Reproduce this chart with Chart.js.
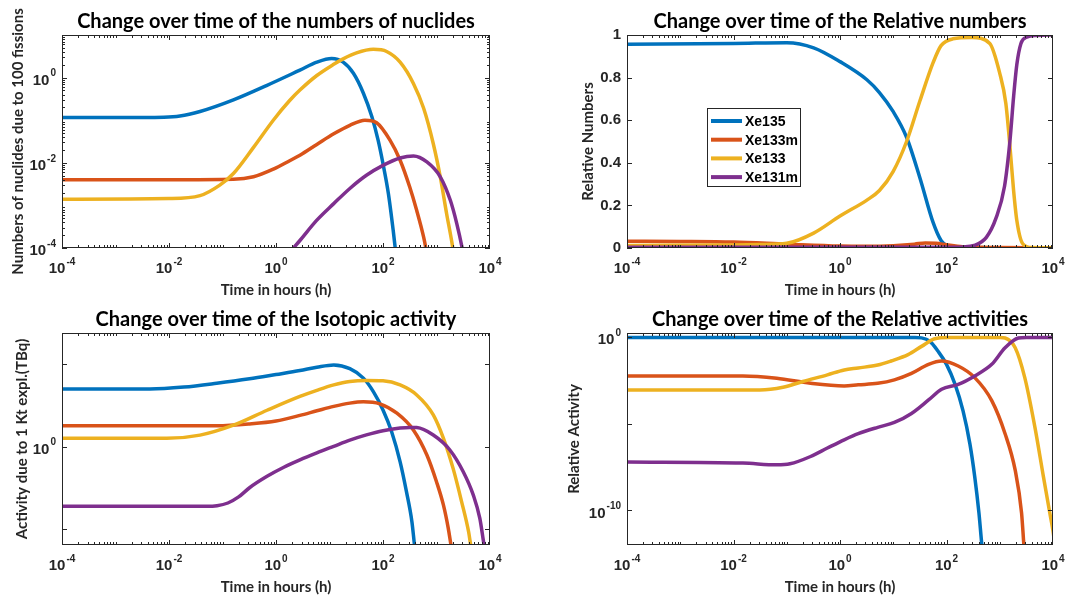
<!DOCTYPE html>
<html>
<head>
<meta charset="utf-8">
<title>Xenon isotopes over time</title>
<script src="https://cdn.jsdelivr.net/npm/chart.js@4.4.1/dist/chart.umd.min.js"></script>
<style>
  body { margin: 0; background: #fff; }
  .panel { position: absolute; width: 536px; height: 298px; }
</style>
</head>
<body>
<div class="panel" style="left:0;top:0"><canvas id="numbers" width="536" height="298"></canvas></div>
<div class="panel" style="left:536px;top:0"><canvas id="relNumbers" width="536" height="298"></canvas></div>
<div class="panel" style="left:0;top:298px"><canvas id="activity" width="536" height="298"></canvas></div>
<div class="panel" style="left:536px;top:298px"><canvas id="relActivity" width="536" height="298"></canvas></div>
<script>
// isotopes and MATLAB default line colours
var isotopes = ["Xe135", "Xe133m", "Xe133", "Xe131m"];
var colours = ["#0072BD", "#D95319", "#EDB120", "#7E2F8E"];

// x axis (time in hours), labels are powers of ten
var timeTicks = [1e-4, 1e-2, 1, 1e2, 1e4];
var timeTickExp = ["-4", "-2", "0", "2", "4"];

// numbers of nuclides due to 100 fissions : [hours, value]
var numXe135 = [[1e-4,0.116],[1e-3,0.116],[0.008,0.118],[0.016,0.125],[0.038,0.16],[0.16,0.30],[0.68,0.66],[2.8,1.5],[5.8,2.3],[11,2.8],[18,2.3],[28,1.26],[43,0.43],[62,0.12],[81,0.034],[100,0.0095],[126,0.0019],[155,2.6e-4],[170,9.5e-5],[200,1.6e-5]];
var numXe133m = [[1e-4,0.004],[0.01,0.004],[0.16,0.0041],[0.38,0.0047],[0.89,0.0071],[1.8,0.0112],[2.8,0.0151],[5.8,0.027],[12,0.048],[24,0.076],[46,0.1],[76,0.087],[135,0.034],[209,0.0115],[316,0.0027],[427,7.6e-4],[575,1.8e-4],[631,1e-4],[800,1.3e-5]];
var numXe133 = [[1e-4,0.0014],[0.01,0.00145],[0.038,0.0017],[0.089,0.003],[0.16,0.0056],[0.38,0.023],[0.89,0.1],[1.8,0.29],[2.8,0.51],[5.8,1.12],[12,2.05],[18,2.75],[32,3.8],[66,4.6],[117,4.1],[209,2.3],[372,0.72],[575,0.19],[871,0.028],[1175,0.0047],[1549,6.3e-4],[1950,1.3e-4],[2500,1.6e-5]];
var numXe131m = [[1e-4,2.3e-7],[0.05,2.3e-7],[0.13,3.6e-7],[0.2,8.5e-7],[0.32,3.0e-6],[0.68,1.5e-5],[1.4,5.4e-5],[2.8,1.5e-4],[5.8,4.5e-4],[12,0.0011],[24,0.0025],[49,0.0051],[100,0.0087],[209,0.013],[372,0.0145],[661,0.0105],[1175,0.0047],[1820,0.0013],[2399,3.7e-4],[3020,1e-4],[3800,2e-5]];

// relative numbers
var relXe135 = [[1e-4,0.957],[0.01,0.96],[0.1,0.964],[0.32,0.94],[1,0.875],[3.2,0.79],[5.5,0.73],[10,0.64],[17.8,0.52],[31.6,0.33],[56,0.12],[79,0.035],[100,0.012],[160,0.002],[1e4,0]];
var relXe133m = [[1e-4,0.032],[1e-3,0.031],[0.01,0.028],[0.1,0.018],[1,0.009],[3.2,0.008],[10,0.011],[25,0.018],[40,0.024],[63,0.022],[100,0.015],[200,0.006],[400,0.003],[1000,0.002],[1e4,0.001]];
var relXe133 = [[1e-4,0.012],[0.01,0.014],[0.032,0.016],[0.1,0.022],[0.32,0.07],[1,0.15],[3.2,0.225],[5.5,0.27],[10,0.36],[17.8,0.5],[31.6,0.69],[56,0.87],[79,0.95],[132,0.982],[300,0.988],[650,0.96],[1000,0.82],[1300,0.68],[1550,0.48],[1820,0.27],[2090,0.13],[2700,0.02],[4000,0.002],[1e4,0.001]];
var relXe131m = [[1e-4,0.003],[100,0.003],[200,0.005],[330,0.012],[560,0.05],[850,0.14],[1230,0.29],[1550,0.5],[1820,0.71],[2090,0.86],[2500,0.96],[3200,0.99],[5000,0.998],[1e4,1.0]];

// activity due to 1 kt explosion (TBq)
var actXe135 = [[1e-4,3200],[0.0044,3200],[0.019,4170],[0.078,7080],[0.32,13200],[1,24000],[2.8,41700],[5.8,66000],[12,91000],[24,54000],[43,14500],[66,2200],[100,170],[145,8.1],[209,0.12],[275,0.0018],[347,2.8e-5],[389,1e-6],[450,3e-8]];
var actXe133m = [[1e-4,18.6],[0.079,18.6],[0.32,24],[1,36],[2.8,79],[5.8,150],[12,280],[24,440],[43,530],[87,400],[182,107],[372,10],[661,0.31],[1000,0.0074],[1349,2.8e-4],[1660,1.1e-5],[1870,1e-6],[2100,1e-7]];
var actXe133 = [[1e-4,3.2],[0.0091,3.2],[0.038,5],[0.16,20],[0.68,162],[2.8,1120],[5.8,2630],[12,5600],[24,9100],[49,10500],[100,10000],[209,5600],[427,1380],[871,85],[1349,3.2],[2042,0.048],[2951,4.5e-4],[3981,6.8e-6],[4365,1.05e-6],[5000,1e-7]];
var actXe131m = [[1e-4,2.4e-4],[0.05,2.4e-4],[0.079,2.6e-4],[0.126,3.8e-4],[0.2,8.9e-4],[0.32,0.0032],[0.68,0.0158],[1.4,0.056],[2.8,0.158],[5.8,0.42],[12,1.05],[24,2.5],[49,5.2],[100,9.3],[209,13.5],[316,14.8],[427,14.5],[871,5.1],[1778,0.63],[3162,0.03],[4898,0.0011],[6457,4.4e-5],[7762,1.05e-6],[9000,1e-7]];

// relative activities
var raXe135 = [[1e-4,0.99],[10,0.99],[25,0.98],[34,0.93],[49,0.59],[69,0.16],[100,0.0275],[145,0.0019],[204,5.8e-5],[275,7e-7],[339,8.9e-9],[407,7e-11],[457,1.35e-12],[520,3e-14]];
var raXe133m = [[1e-4,0.0059],[0.015,0.0059],[0.065,0.0043],[0.28,0.0022],[1.2,0.00155],[2.2,0.0018],[5.1,0.0022],[10.5,0.0035],[22,0.0083],[46,0.0275],[81,0.043],[166,0.022],[339,0.0047],[708,2.2e-4],[1259,2.7e-6],[1950,2.1e-8],[2570,7e-11],[2818,1.35e-12],[3100,2e-14]];
var raXe133 = [[1e-4,9.1e-4],[0.031,9.1e-4],[0.085,0.0013],[0.2,0.0028],[0.58,0.0068],[1.2,0.013],[2.2,0.017],[5.1,0.025],[9.1,0.043],[19,0.1],[34,0.3],[60,0.83],[107,0.99],[700,0.99],[1000,0.98],[1259,0.91],[1950,0.25],[2951,0.0047],[4571,6.5e-6],[6607,8.9e-9],[8710,7e-11],[9900,8e-12],[12000,1e-13]];
var raXe131m = [[1e-4,6.2e-8],[0.015,5.4e-8],[0.065,4.3e-8],[0.115,4.9e-8],[0.28,1.3e-7],[0.58,4e-7],[1.2,1.2e-6],[2.2,2.7e-6],[5.1,6.3e-6],[10.5,1.2e-5],[22,4e-5],[46,2.4e-4],[81,0.001],[166,0.0019],[339,0.0059],[708,0.0275],[1259,0.25],[2239,0.91],[3162,0.99],[1e4,0.99]];

var axisColor = "#262626";
var baseFont = 'bold 15px "Liberation Sans", Arial, sans-serif';
var expFont = 'bold 10px "Liberation Sans", Arial, sans-serif';
var titleFont = 'bold 20px Lato, "Open Sans", sans-serif';
var labelFont = 'bold 15px Lato, "Open Sans", sans-serif';

// per panel texts and axis ticks
var panels = {
    numbers: {
        title: "Change over time of the numbers of nuclides",
        yTitle: "Numbers of nuclides due to 100 fissions", yTitleX: 18,
        yTicks: [1e-4, 1e-2, 1], yLabels: ["-4", "-2", "0"], yPow: true, yMinor: true
    },
    relNumbers: {
        title: "Change over time of the Relative numbers",
        yTitle: "Relative Numbers", yTitleX: 52,
        yTicks: [0, 0.2, 0.4, 0.6, 0.8, 1], yLabels: ["0", "0.2", "0.4", "0.6", "0.8", "1"], yPow: false,
        legend: true
    },
    activity: {
        title: "Change over time of the Isotopic activity",
        yTitle: "Activity due to 1 Kt expl.(TBq)", yTitleX: 22,
        yTicks: [1e-5, 1, 1e5], yLabels: ["", "0", ""], yPow: true
    },
    relActivity: {
        title: "Change over time of the Relative activities",
        yTitle: "Relative Activity", yTitleX: 38,
        yTicks: [1e-10, 1e-5, 1], yLabels: ["-10", "", "0"], yPow: true
    }
};

function drawPow(ctx, exp, x, y, align) {
    ctx.font = baseFont;
    var wb = ctx.measureText("10").width;
    ctx.font = expFont;
    var we = ctx.measureText(exp).width;
    var total = wb + we + 1;
    var x0 = align === "center" ? x - total / 2 : x - total;
    ctx.textAlign = "left";
    ctx.textBaseline = "middle";
    ctx.font = baseFont;
    ctx.fillText("10", x0, y + 3);
    ctx.font = expFont;
    ctx.fillText(exp, x0 + wb + 1, y - 4);
}

var decor = {
    id: "decor",
    afterDatasetsDraw: function (chart) {
        var p = panels[chart.canvas.id];
        var ctx = chart.ctx, a = chart.chartArea;
        var xs = chart.scales.x, ys = chart.scales.y;
        ctx.save();
        ctx.strokeStyle = axisColor;
        ctx.lineWidth = 1;
        ctx.strokeRect(a.left + 0.5, a.top + 0.5, a.right - a.left - 1, a.bottom - a.top - 1);
        ctx.beginPath();
        // x ticks, major and log minor, top and bottom
        for (var d = -4; d < 4; d++) {
            for (var k = 1; k < 10; k++) {
                var v = k * Math.pow(10, d);
                var major = timeTicks.indexOf(v) >= 0 || (k === 1 && d === -4);
                var len = major ? 5 : 3;
                var px = Math.round(xs.getPixelForValue(v)) + 0.5;
                ctx.moveTo(px, a.bottom); ctx.lineTo(px, a.bottom - len);
                ctx.moveTo(px, a.top); ctx.lineTo(px, a.top + len);
            }
        }
        // y ticks
        p.yTicks.forEach(function (v) {
            var py = Math.round(ys.getPixelForValue(v)) + 0.5;
            ctx.moveTo(a.left, py); ctx.lineTo(a.left + 5, py);
            ctx.moveTo(a.right, py); ctx.lineTo(a.right - 5, py);
        });
        if (p.yMinor) {
            for (var e = -4; e < 1; e++) {
                for (var m = 2; m < 10; m++) {
                    var vy = m * Math.pow(10, e);
                    if (vy > ys.max) continue;
                    var qy = Math.round(ys.getPixelForValue(vy)) + 0.5;
                    ctx.moveTo(a.left, qy); ctx.lineTo(a.left + 3, qy);
                    ctx.moveTo(a.right, qy); ctx.lineTo(a.right - 3, qy);
                }
            }
        }
        ctx.stroke();
        ctx.restore();
    },
    afterDraw: function (chart) {
        var p = panels[chart.canvas.id];
        var ctx = chart.ctx, a = chart.chartArea;
        var xs = chart.scales.x, ys = chart.scales.y;
        var cx = (a.left + a.right) / 2;
        ctx.save();
        ctx.fillStyle = "#000";
        // title
        ctx.font = titleFont;
        ctx.textAlign = "center";
        ctx.textBaseline = "alphabetic";
        ctx.fillText(p.title, cx, a.top - 7);
        // x tick labels
        ctx.fillStyle = "#262626";
        timeTicks.forEach(function (v, i) {
            drawPow(ctx, timeTickExp[i], xs.getPixelForValue(v), a.bottom + 18, "center");
        });
        // y tick labels
        p.yTicks.forEach(function (v, i) {
            var lab = p.yLabels[i];
            if (!lab) return;
            var py = ys.getPixelForValue(v);
            if (p.yPow) {
                drawPow(ctx, lab, a.left - 6, py, "right");
            } else {
                ctx.font = baseFont;
                ctx.textAlign = "right";
                ctx.textBaseline = "middle";
                ctx.fillText(lab, a.left - 6, py);
            }
        });
        // axis titles
        ctx.fillStyle = "#262626";
        ctx.font = labelFont;
        ctx.textAlign = "center";
        ctx.textBaseline = "middle";
        ctx.fillText("Time in hours (h)", cx, a.bottom + 42);
        ctx.save();
        ctx.translate(p.yTitleX, (a.top + a.bottom) / 2);
        ctx.rotate(-Math.PI / 2);
        ctx.fillText(p.yTitle, 0, 0);
        ctx.restore();
        // legend box inside the axes
        if (p.legend) {
            var lx = a.left + 80, ly = a.top + 73;
            ctx.fillStyle = "#fff";
            ctx.fillRect(lx, ly, 93, 78);
            ctx.strokeStyle = axisColor;
            ctx.lineWidth = 1;
            ctx.strokeRect(lx + 0.5, ly + 0.5, 93, 78);
            chart.data.datasets.forEach(function (ds, i) {
                var ry = ly + 13 + i * 18.7;
                ctx.strokeStyle = ds.borderColor;
                ctx.lineWidth = 4;
                ctx.beginPath();
                ctx.moveTo(lx + 4, ry);
                ctx.lineTo(lx + 35, ry);
                ctx.stroke();
                ctx.fillStyle = "#000";
                ctx.font = 'bold 14px "Liberation Sans", Arial, sans-serif';
                ctx.textAlign = "left";
                ctx.textBaseline = "middle";
                ctx.fillText(ds.label, lx + 38, ry + 1);
            });
        }
        ctx.restore();
    }
};

function makePanel(id, series, yScale, pad) {
    return new Chart(document.getElementById(id), {
        type: "line",
        data: {
            datasets: series.map(function (pts, i) {
                return {
                    label: isotopes[i],
                    data: pts.map(function (q) { return { x: q[0], y: q[1] }; }),
                    borderColor: colours[i],
                    backgroundColor: colours[i],
                    borderWidth: 3.5,
                    borderJoinStyle: "round",
                    pointRadius: 0,
                    cubicInterpolationMode: "monotone",
                    fill: false,
                    // later series on top, as in the original figure
                    order: 3 - i
                };
            })
        },
        options: {
            responsive: false,
            animation: false,
            events: [],
            layout: { padding: pad },
            scales: {
                x: { type: "logarithmic", min: 1e-4, max: 1e4, display: false },
                y: Object.assign({ display: false }, yScale)
            },
            plugins: { legend: { display: false }, tooltip: { enabled: false } }
        },
        plugins: [decor]
    });
}

makePanel("numbers", [numXe135, numXe133m, numXe133, numXe131m],
    { type: "logarithmic", min: 1e-4, max: 10 },
    { left: 62, right: 46, top: 35, bottom: 50 });
makePanel("relNumbers", [relXe135, relXe133m, relXe133, relXe131m],
    { type: "linear", min: 0, max: 1 },
    { left: 91, right: 19, top: 35, bottom: 50 });
makePanel("activity", [actXe135, actXe133m, actXe133, actXe131m],
    { type: "logarithmic", min: Math.pow(10, -5.97), max: Math.pow(10, 6.9) },
    { left: 62, right: 46, top: 35, bottom: 51 });
makePanel("relActivity", [raXe135, raXe133m, raXe133, raXe131m],
    { type: "logarithmic", min: 1e-12, max: Math.pow(10, 0.25) },
    { left: 91, right: 19, top: 35, bottom: 51 });
</script>
</body>
</html>
